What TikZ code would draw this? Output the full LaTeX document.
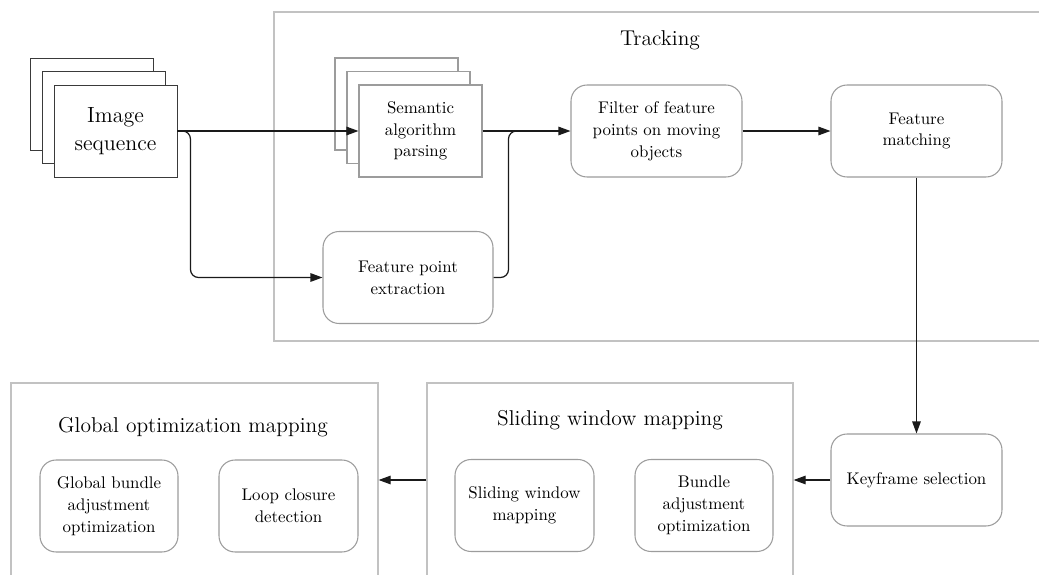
\documentclass[tikz,border=0pt]{standalone}
\usepackage{xcolor}
\usepackage{tikz}
\usetikzlibrary{positioning, calc, fit, arrows.meta}
\definecolor{ink}{HTML}{1A1A1A}
\definecolor{sheetln}{HTML}{3A3A3A}
\definecolor{edge}{HTML}{9C9C9C}
\definecolor{frameln}{HTML}{C2C2C2}

\begin{document}
\begin{tikzpicture}[x=0.02cm, y=-0.02cm,
  bx/.style={draw=edge, line width=0.6pt, rounded corners=0.32cm, fill=white,
             minimum width=3.42cm, minimum height=1.84cm, inner sep=0pt,
             font=\fontsize{9.6}{12.4}\selectfont, align=center},
  sheet/.style={draw=edge, line width=0.6pt, fill=white,
                minimum width=2.46cm, minimum height=1.84cm, inner sep=0pt,
                font=\fontsize{9.6}{12.4}\selectfont, align=center},
  imgsheet/.style={sheet, draw=sheetln, line width=0.55pt, font=\fontsize{12.5}{16}\selectfont},
  grp/.style={draw=frameln, line width=0.7pt, inner sep=0pt},
  ttl/.style={font=\fontsize{12.2}{16}\selectfont},
  arr/.style={draw=ink, line width=0.7pt, -{Triangle[length=2.4mm, width=1.7mm]}},
  ln/.style={draw=ink, line width=0.7pt}
]
  \clip (0,0) rectangle (1039,575);
  \fill[white] (0,0) rectangle (1039,575);

  % group frames
  \node[grp, fit={(274,12) (1060,341)}] (track) {};
  \node[ttl] (tracktl) at (660,40) {Tracking};
  \node[grp, fit={(427,383) (793,600)}] (slide) {};
  \node[ttl] (slidetl) at (610,420) {Sliding window mapping};
  \node[grp, fit={(11,383) (378,600)}] (glob) {};
  \node[ttl] (globtl) at (193,427) {Global optimization mapping};

  % image sequence stack
  \node[imgsheet] (imgc) at (91.5,104) {};
  \node[imgsheet] (imgb) at (103.5,117.5) {};
  \node[imgsheet] (img) at (115.5,131) {Image\\sequence};

  % semantic parsing stack
  \node[sheet] (semc) at (396.5,104) {};
  \node[sheet] (semb) at (408.5,117.5) {};
  \node[sheet] (sem) at (420.5,131) {Semantic\\algorithm\\parsing};

  \node[bx, minimum width=3.4cm] (feat) at (408,277.5) {Feature point\\extraction};
  \node[bx] (filt) at (656.5,131) {Filter of feature\\points on moving\\objects};
  \node[bx] (match) at (916.5,131) {Feature\\matching};
  \node[bx] (key) at (916.5,480) {Keyframe selection};

  \node[bx, minimum width=2.78cm] (swm) at (524.5,505.5) {Sliding window\\mapping};
  \node[bx, minimum width=2.76cm] (bao) at (704,505.5) {Bundle\\adjustment\\optimization};
  \node[bx, minimum width=2.76cm] (gba) at (109,506) {Global bundle\\adjustment\\optimization};
  \node[bx, minimum width=2.78cm] (lcd) at (288.5,506) {Loop closure\\detection};

  % connectors
  \draw[arr] (img) -- (sem);
  \draw[arr, rounded corners=0.16cm] (img.east) -- ++(13,0) |- (feat.west);
  \draw[arr] (sem) -- (filt);
  \draw[ln, rounded corners=0.16cm] (feat.east) -- ++(15,0) |- ($(sem.east)!0.5!(filt.west)$);
  \draw[arr] (filt) -- (match);
  \draw[arr] (match) -- (key);
  \draw[arr] (key.west) -- (key.west -| slide.east);
  \draw[arr] (slide.west |- key.west) -- (glob.east |- key.west);
\end{tikzpicture}
\end{document}
